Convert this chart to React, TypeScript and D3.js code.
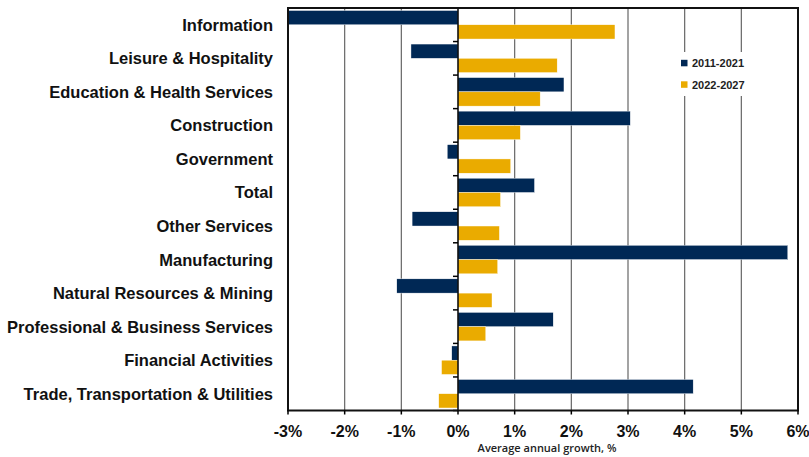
import React from "react";
import * as d3 from "d3";

const categories = [
  "Information",
  "Leisure & Hospitality",
  "Education & Health Services",
  "Construction",
  "Government",
  "Total",
  "Other Services",
  "Manufacturing",
  "Natural Resources & Mining",
  "Professional & Business Services",
  "Financial Activities",
  "Trade, Transportation & Utilities",
];
const series2011 = [-3.0, -0.83, 1.87, 3.04, -0.19, 1.35, -0.81, 5.82, -1.08, 1.68, -0.11, 4.15];
const series2022 = [2.77, 1.75, 1.45, 1.1, 0.93, 0.75, 0.73, 0.7, 0.6, 0.49, -0.29, -0.34];
const seriesNames = ["2011-2021", "2022-2027"];
const colors = ["#002855", "#EAAB00"];
const xTicks = [-3, -2, -1, 0, 1, 2, 3, 4, 5, 6];
const axisTitle = "Average annual growth, %";

export default function App() {
  const W = 809, H = 457;
  const left = 288, right = 798, top = 8, bottom = 410.5;
  const x = d3.scaleLinear().domain([-3, 6]).range([left, right]);
  const y = d3.scaleBand().domain(categories).range([top, bottom]).paddingInner(0).paddingOuter(0);
  const bw = y.bandwidth();
  const pad = bw * 0.075;
  const barH = (bw - 2 * pad) / 2;
  const data = [series2011, series2022];
  return (
    <svg width={W} height={H} style={{ position: "absolute", left: 0, top: 0, background: "#fff" }}>
      {xTicks.slice(1, -1).filter((t) => t !== 0).map((t) => (
        <line key={t} x1={x(t)} x2={x(t)} y1={top} y2={bottom} stroke="#666" strokeWidth={1.2} />
      ))}
      {data.map((s, si) =>
        s.map((v, i) => {
          const yy = (y(categories[i]) as number) + pad + si * barH;
          const x0 = x(Math.min(0, v));
          const x1 = x(Math.max(0, v));
          return <rect key={si + "-" + i} x={x0} y={yy} width={x1 - x0} height={barH} fill={colors[si]} stroke="#fff" strokeWidth={0.4} />;
        })
      )}
      {/* zero axis */}
      <line x1={x(0)} x2={x(0)} y1={top} y2={bottom} stroke="#000" strokeWidth={1.5} />
      {d3.range(categories.length + 1).map((i) => {
        const yy = top + i * bw;
        return <line key={"yt" + i} x1={x(0) - 5} x2={x(0)} y1={yy} y2={yy} stroke="#000" strokeWidth={1.5} />;
      })}
      {/* frame */}
      <rect x={left} y={top} width={right - left} height={bottom - top} fill="none" stroke="#111" strokeWidth={2} />
      {xTicks.map((t) => (
        <line key={"xt" + t} x1={x(t)} x2={x(t)} y1={bottom} y2={bottom + 4} stroke="#000" strokeWidth={1.5} />
      ))}
      {categories.map((c) => (
        <text key={c} x={273} y={(y(c) as number) + bw / 2} textAnchor="end" dominantBaseline="central"
          fontFamily="'Liberation Sans', Arial, sans-serif" fontWeight="bold" fontSize={16.5} fill="#111">
          {c}
        </text>
      ))}
      {xTicks.map((t) => (
        <text key={"xl" + t} x={x(t)} y={431} textAnchor="middle" dominantBaseline="central"
          fontFamily="'Liberation Sans', Arial, sans-serif" fontWeight="bold" fontSize={16} fill="#111">
          {t + "%"}
        </text>
      ))}
      <text x={547} y={447} textAnchor="middle" dominantBaseline="central"
        fontFamily="'Open Sans', sans-serif" fontWeight={600} fontSize={11} fill="#222">
        {axisTitle}
      </text>
      {/* legend */}
      <rect x={675} y={52} width={80} height={44} fill="#fff" />
      {seriesNames.map((n, i) => (
        <g key={n} transform={`translate(681, ${63 + i * 21.5})`}>
          <rect x={0} y={-3.2} width={6.5} height={6.5} fill={colors[i]} />
          <text x={11} y={0} dominantBaseline="central" fontFamily="'Liberation Sans', Arial, sans-serif"
            fontWeight="bold" fontSize={11} fill="#222">
            {n}
          </text>
        </g>
      ))}
    </svg>
  );
}
